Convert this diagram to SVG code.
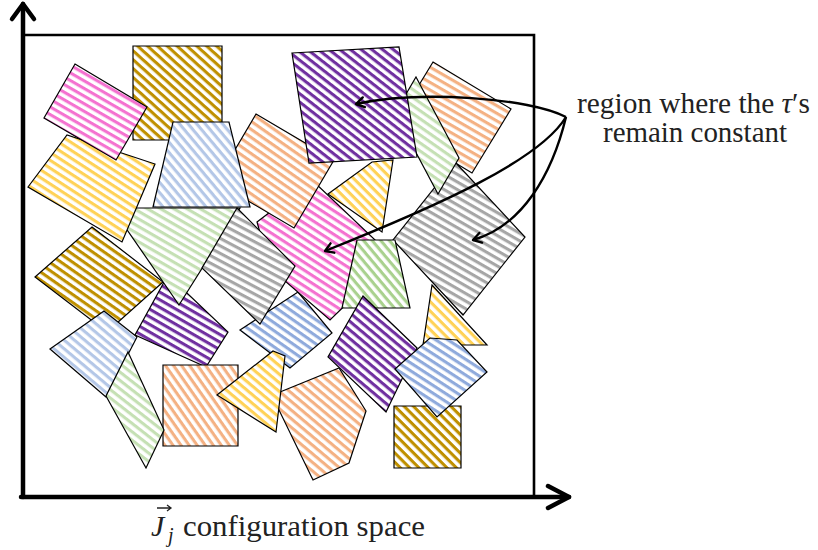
<svg xmlns="http://www.w3.org/2000/svg" xmlns:xlink="http://www.w3.org/1999/xlink" width="818" height="550" viewBox="0 0 818 550">
<style>
.sh{stroke:#000;stroke-width:1.2;stroke-linejoin:miter}
.ax{stroke:#000;stroke-width:4.5;fill:none;stroke-linecap:round;stroke-linejoin:round}
.bx{stroke:#000;stroke-width:2.6;fill:none}
.cv{stroke:#000;stroke-width:2.4;fill:none;marker-end:url(#ah)}
.lbl{font-family:"Liberation Serif","DejaVu Serif",serif;fill:#222}
</style>
<defs>
<marker id="ah" viewBox="-10 -7 12 14" refX="0" refY="0" markerWidth="12" markerHeight="14" markerUnits="userSpaceOnUse" orient="auto" overflow="visible">
<path d="M-8,-5 L0,0 L-8,5" fill="none" stroke="#000" stroke-width="2.4" stroke-linecap="round" stroke-linejoin="round"/>
</marker>
<pattern id="gold" patternUnits="userSpaceOnUse" width="10" height="6.6"><rect width="10" height="6.6" fill="#fff"/><rect width="10" height="3.1" fill="#bf9000"/></pattern>
<pattern id="pink" patternUnits="userSpaceOnUse" width="10" height="6.6"><rect width="10" height="6.6" fill="#fff"/><rect width="10" height="3.1" fill="#f472d0"/></pattern>
<pattern id="yel" patternUnits="userSpaceOnUse" width="10" height="6.6"><rect width="10" height="6.6" fill="#fff"/><rect width="10" height="3.1" fill="#ffd257"/></pattern>
<pattern id="lblue" patternUnits="userSpaceOnUse" width="10" height="6.6"><rect width="10" height="6.6" fill="#fff"/><rect width="10" height="3.1" fill="#b4c7e7"/></pattern>
<pattern id="blue" patternUnits="userSpaceOnUse" width="10" height="6.6"><rect width="10" height="6.6" fill="#fff"/><rect width="10" height="3.1" fill="#8faadc"/></pattern>
<pattern id="ora" patternUnits="userSpaceOnUse" width="10" height="6.6"><rect width="10" height="6.6" fill="#fff"/><rect width="10" height="3.1" fill="#f4b183"/></pattern>
<pattern id="lgrn" patternUnits="userSpaceOnUse" width="10" height="6.6"><rect width="10" height="6.6" fill="#fff"/><rect width="10" height="3.1" fill="#c5e0b4"/></pattern>
<pattern id="grn" patternUnits="userSpaceOnUse" width="10" height="6.6"><rect width="10" height="6.6" fill="#fff"/><rect width="10" height="3.1" fill="#a9d18e"/></pattern>
<pattern id="pur" patternUnits="userSpaceOnUse" width="10" height="6.6"><rect width="10" height="6.6" fill="#fff"/><rect width="10" height="3.1" fill="#7030a0"/></pattern>
<pattern id="gray" patternUnits="userSpaceOnUse" width="10" height="6.6"><rect width="10" height="6.6" fill="#fff"/><rect width="10" height="3.1" fill="#a6a6a6"/></pattern>

<pattern id="p1" xlink:href="#gold" patternTransform="rotate(42)"/>
<pattern id="p2" xlink:href="#gold" patternTransform="rotate(35)"/>
<pattern id="p3" xlink:href="#pur" patternTransform="rotate(30)"/>
<pattern id="p4" xlink:href="#lgrn" patternTransform="rotate(30)"/>
<pattern id="p5" xlink:href="#yel" patternTransform="rotate(33)"/>
<pattern id="p6" xlink:href="#pink" patternTransform="rotate(30)"/>
<pattern id="p7" xlink:href="#blue" patternTransform="rotate(35)"/>
<pattern id="p8" xlink:href="#pink" patternTransform="rotate(33)"/>
<pattern id="p9" xlink:href="#ora" patternTransform="rotate(35)"/>
<pattern id="p10" xlink:href="#lblue" patternTransform="rotate(50)"/>
<pattern id="p11" xlink:href="#gray" patternTransform="rotate(28)"/>
<pattern id="p12" xlink:href="#yel" patternTransform="rotate(45)"/>
<pattern id="p13" xlink:href="#ora" patternTransform="rotate(30)"/>
<pattern id="p14" xlink:href="#gray" patternTransform="rotate(30)"/>
<pattern id="p15" xlink:href="#lgrn" patternTransform="rotate(35)"/>
<pattern id="p16" xlink:href="#pur" patternTransform="rotate(38)"/>
<pattern id="p17" xlink:href="#grn" patternTransform="rotate(50)"/>
<pattern id="p18" xlink:href="#ora" patternTransform="rotate(40)"/>
<pattern id="p19" xlink:href="#pur" patternTransform="rotate(40)"/>
<pattern id="p20" xlink:href="#yel" patternTransform="rotate(45)"/>
<pattern id="p21" xlink:href="#gold" patternTransform="rotate(45)"/>
<pattern id="p22" xlink:href="#blue" patternTransform="rotate(33)"/>
<pattern id="p23" xlink:href="#ora" patternTransform="rotate(55)"/>
<pattern id="p24" xlink:href="#lblue" patternTransform="rotate(40)"/>
<pattern id="p25" xlink:href="#lgrn" patternTransform="rotate(38)"/>
<pattern id="p26" xlink:href="#yel" patternTransform="rotate(40)"/>
</defs>
<rect width="818" height="550" fill="#fff"/>

<g id="regions">
<g id="gold-top"><polygon class="sh" fill="url(#p1)" points="133,46 222,46 222,140 133,140"/></g>
<g id="gold-left"><polygon class="sh" fill="url(#p2)" points="92,227 163,282 107,332 35,277"/></g>
<g id="purple-centerleft"><polygon class="sh" fill="url(#p3)" points="168,275 228,332 206,367 135,335"/></g>
<g id="green-triangle"><polygon class="sh" fill="url(#p4)" points="112,208 240,208 179,305"/></g>
<g id="yellow-left"><polygon class="sh" fill="url(#p5)" points="28,187 67,135 155,164 122,242"/></g>
<g id="pink-topleft"><polygon class="sh" fill="url(#p6)" points="75,64 147,107 116,160 44,118"/></g>
<g id="blue-center"><polygon class="sh" fill="url(#p7)" points="240,330 298,292 332,333 290,368"/></g>
<g id="pink-center"><polygon class="sh" fill="url(#p8)" points="257,222 312,180 394,258 330,320 270,268"/></g>
<g id="orange-topcenter"><polygon class="sh" fill="url(#p9)" points="256,114 334,160 294,228 216,182"/></g>
<g id="blue-trapezoid"><polygon class="sh" fill="url(#p10)" points="173,122 229,122 250,207 153,207"/></g>
<g id="gray-center"><polygon class="sh" fill="url(#p11)" points="237,208 295,266 260,324 202,268"/></g>
<g id="yellow-center"><polygon class="sh" fill="url(#p12)" points="328,194 372,162 393,160 382,232"/></g>
<g id="orange-right"><polygon class="sh" fill="url(#p13)" points="433,62 511,109 472,173 394,126"/></g>
<g id="gray-right"><polygon class="sh" fill="url(#p14)" points="455,162 525,237 463,315 393,240"/></g>
<g id="green-thin-top"><polygon class="sh" fill="url(#p15)" points="416,77 459,158 438,194 395,113"/></g>
<g id="purple-square"><polygon class="sh" fill="url(#p16)" points="292,53 399,47 417,157 309,163"/></g>
<g id="green-trapezoid"><polygon class="sh" fill="url(#p17)" points="357,240 395,240 410,308 342,308"/></g>
<g id="orange-pentagon"><polygon class="sh" fill="url(#p18)" points="280,392 339,368 366,411 349,463 313,480 278,408"/></g>
<g id="purple-lowercenter"><polygon class="sh" fill="url(#p19)" points="363,296 417,348 386,412 328,357"/></g>
<g id="yellow-triangle-right"><polygon class="sh" fill="url(#p20)" points="432,285 487,345 423,345"/></g>
<g id="gold-small"><polygon class="sh" fill="url(#p21)" points="394,406 461,406 461,468 394,468"/></g>
<g id="blue-pentagon"><polygon class="sh" fill="url(#p22)" points="395,369 430,338 457,340 487,372 437,417"/></g>
<g id="orange-square"><polygon class="sh" fill="url(#p23)" points="163,365 238,365 238,446 163,446"/></g>
<g id="blue-lowerleft"><polygon class="sh" fill="url(#p24)" points="50,349 104,311 137,337 106,397"/></g>
<g id="green-lowerleft"><polygon class="sh" fill="url(#p25)" points="128,352 164,430 146,468 106,396"/></g>
<g id="yellow-lowercenter"><polygon class="sh" fill="url(#p26)" points="217,395 273,351 285,356 276,432"/></g>
</g>

<g id="frame">
<path class="bx" d="M23,35 H534 V497"/>
<path class="ax" d="M23,497 V4"/>
<path class="ax" d="M12,19 L23,4 L34,19"/>
<path class="ax" d="M21,497 H569"/>
<path class="ax" d="M548,486 L569,497 L548,508"/>
</g>

<g id="connectors">
<path class="cv" d="M566,117 C530,98 420,90 356,104"/>
<path class="cv" d="M566,117 C540,160 440,205 325,251"/>
<path class="cv" d="M566,117 C552,175 522,226 473,240"/>
</g>

<g id="labels">
<text class="lbl" x="577" y="113" font-size="29" textLength="233" lengthAdjust="spacingAndGlyphs">region where the <tspan font-style="italic">τ</tspan>′s</text>
<text class="lbl" x="603" y="142" font-size="29" textLength="184" lengthAdjust="spacingAndGlyphs">remain constant</text>
<g id="axis-label">
<path d="M157,508 H171 M167,505 L171,508 L167,511" fill="none" stroke="#222" stroke-width="1.3"/>
<text class="lbl" x="151" y="536" font-size="30" font-style="italic">J</text>
<text class="lbl" x="168" y="542" font-size="20" font-style="italic">j</text>
<text class="lbl" x="183" y="536" font-size="30" textLength="242" lengthAdjust="spacingAndGlyphs">configuration space</text>
</g>
</g>
</svg>
